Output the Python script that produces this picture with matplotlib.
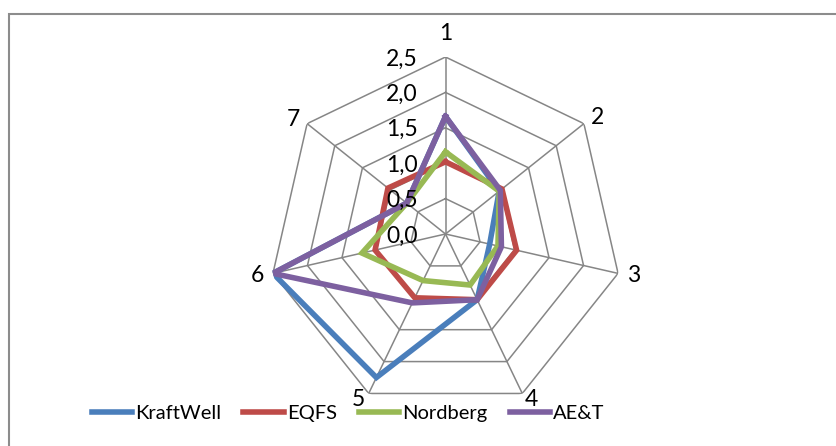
import numpy as np
import matplotlib
matplotlib.use("Agg")
import matplotlib.pyplot as plt
from matplotlib.patches import Rectangle

plt.rcParams['font.family'] = ['Lato', 'DejaVu Sans']

categories = ["1", "2", "3", "4", "5", "6", "7"]
tick_levels = [0.0, 0.5, 1.0, 1.5, 2.0, 2.5]
tick_labels = ["0,0", "0,5", "1,0", "1,5", "2,0", "2,5"]

kraftwell = [1.66, 0.97, 0.64, 1.03, 2.25, 2.50, 0.70]
eqfs = [1.02, 1.02, 1.03, 1.03, 1.00, 1.02, 1.04]
nordberg = [1.16, 0.97, 0.76, 0.80, 0.73, 1.21, 0.70]
aet = [1.66, 0.99, 0.81, 1.03, 1.08, 2.50, 0.70]

series = [("KraftWell", kraftwell, "#4a7ebb"),
          ("EQFS", eqfs, "#be4b48"),
          ("Nordberg", nordberg, "#98b954"),
          ("AE&T", aet, "#7d60a0")]

W, H = 836, 446
cx, cy, R = 445.5, 234, 177
fig = plt.figure(figsize=(W / 100, H / 100), dpi=100)
ax = fig.add_axes([(cx - R) / W, (H - cy - R) / H, 2 * R / W, 2 * R / H], projection="polar")
ax.set_theta_zero_location("N")
ax.set_theta_direction(-1)
ax.set_ylim(0, 2.5)
ax.grid(False)
ax.spines["polar"].set_visible(False)
ax.set_xticks([])
ax.set_yticks([])
ax.patch.set_alpha(0)

n = len(categories)
theta = np.linspace(0, 2 * np.pi, n, endpoint=False)
closed = np.append(theta, theta[0])

grid_color = "#868686"
# heptagon rings and spokes
for lvl in tick_levels[1:]:
    ax.plot(closed, [lvl] * (n + 1), color=grid_color, lw=1.1, zorder=1)
for t in theta:
    ax.plot([t, t], [0, 2.5], color=grid_color, lw=1.1, zorder=1)

for i, (name, vals, col) in enumerate(series):
    ax.plot(closed, vals + vals[:1], color=col, lw=4, label=name,
            solid_joinstyle="miter", zorder=3 + i)

# category labels around the outer ring
label_offsets = [(0, 24), (14, 6), (16, -2), (9, -6), (-10, -6), (-16, -2), (-14, 4)]
for t, lab, off in zip(theta, categories, label_offsets):
    ax.annotate(lab, xy=(t, 2.5), xytext=off, textcoords="offset pixels",
                ha="center", va="center", fontsize=16.5, annotation_clip=False)

# value labels along the first spoke
for lvl, lab in zip(tick_levels, tick_labels):
    ax.annotate(lab, xy=(0, lvl), xytext=(-28, -2), textcoords="offset pixels",
                ha="right", va="center", fontsize=16.5, annotation_clip=False, zorder=10)

leg = fig.legend(loc="center", bbox_to_anchor=(348 / W, 1 - 413 / H), ncol=4, frameon=False,
                 fontsize=14.5, handlelength=2.0, handletextpad=0.15, columnspacing=1.1)

fig.patches.append(Rectangle((9 / W, -0.1), 1.2, (H - 14) / H + 0.1, transform=fig.transFigure,
                             fill=False, edgecolor="#8c8c8c", lw=1.5))

fig.savefig("out.png", dpi=100)
